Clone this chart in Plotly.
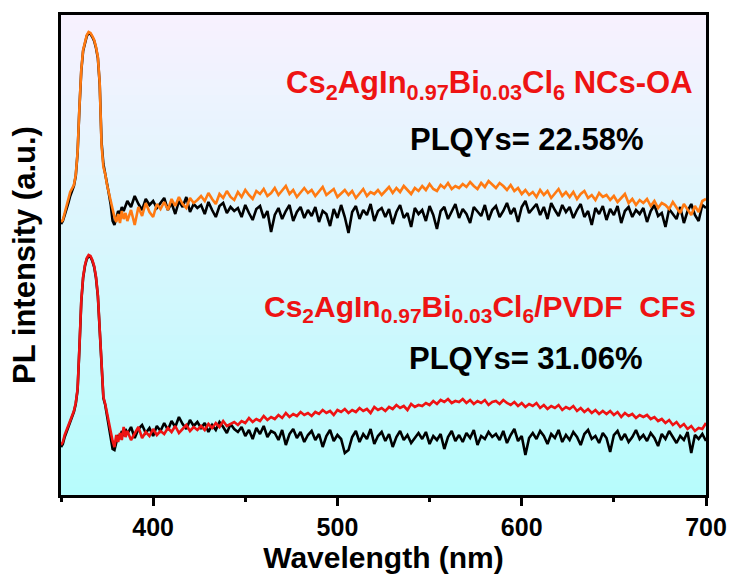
import plotly.graph_objects as go

# ---------------- data (arbitrary intensity units) -------------
wavelength = list(range(350, 386)) + list(range(386, 701, 2))

# upper pair: Cs2AgIn0.97Bi0.03Cl6 NCs-OA (orange) and its reference (black)
oa_orange = [
    275, 277, 284, 290, 298, 305, 308, 312, 322, 345, 390, 427, 447, 456, 462, 465, 464, 461,
    457, 450, 440, 414, 352, 330, 323, 312, 303, 297, 288, 280, 275, 283, 274, 286, 278, 284,
    276, 287, 272, 290, 281, 294, 285, 280, 293, 288,
    295, 287, 298, 291, 300, 293, 289, 299, 294, 297,
    301, 296, 304, 298, 293, 303, 299, 306, 300, 297,
    305, 300, 307, 302, 298, 306, 303, 308, 301, 304,
    309, 302, 306, 311, 303, 307, 300, 305, 309, 304,
    307, 301, 306, 310, 302, 305, 308, 300, 304, 307,
    302, 306, 299, 304, 308, 301, 305, 303, 307, 302,
    306, 310, 304, 309, 305, 311, 307, 303, 309, 306,
    311, 307, 313, 308, 306, 312, 309, 314, 308, 311,
    309, 313, 310, 315, 311, 308, 314, 310, 316, 312,
    309, 314, 311, 307, 312, 306, 309, 303, 307, 302,
    305, 300, 307, 302, 306, 299, 304, 308, 301, 305,
    300, 305, 298, 303, 306, 299, 302, 297, 304, 300,
    302, 297, 301, 295, 299, 303, 294, 298, 292, 297,
    294, 298, 291, 296, 289, 294, 292, 288, 295, 290,
    284, 293, 287, 282, 291, 285, 296, 298,
]
oa_black = [
    273, 276, 282, 287, 294, 301, 306, 311, 321, 344, 389, 426, 446, 455, 461, 464, 463, 460,
    456, 449, 439, 413, 355, 333, 324, 313, 303, 292, 276, 272, 279, 286, 283, 290, 286, 292,
    296, 290, 301, 293, 287, 298, 292, 296, 289, 294,
    299, 287, 294, 283, 296, 290, 300, 285, 293, 289,
    292, 283, 295, 287, 280, 291, 294, 284, 290, 286,
    289, 280, 292, 284, 277, 288, 291, 279, 286, 265,
    282, 289, 278, 286, 292, 276, 285, 290, 279, 287,
    281, 290, 275, 286, 283, 271, 288, 279, 292, 280,
    264, 285, 291, 278, 287, 282, 293, 276, 286, 289,
    280, 288, 273, 285, 292, 279, 284, 270, 289, 283,
    287, 276, 291, 282, 268, 286, 290, 278, 285, 293,
    279, 288, 283, 274, 290, 286, 281, 292, 277, 287,
    291, 280, 286, 294, 283, 289, 275, 290, 296, 284,
    289, 293, 282, 290, 278, 294, 287, 281, 292, 285,
    290, 279, 287, 293, 280, 286, 272, 289, 283, 291,
    277, 288, 282, 291, 274, 286, 290, 280, 287, 283,
    289, 275, 286, 292, 281, 284, 270, 288, 283, 278,
    290, 274, 286, 293, 282, 276, 292, 289,
]

# lower pair: Cs2AgIn0.97Bi0.03Cl6/PVDF CFs (red) and its reference (black)
cf_red = [
    52, 55, 62, 67, 72, 76, 80, 86, 94, 108, 150, 196, 220, 232, 239, 242, 241, 237,
    231, 220, 202, 170, 128, 100, 93, 84, 73, 64, 56, 50, 62, 55, 64, 57, 70, 60,
    66, 57, 63, 70, 59, 65, 61, 68, 62, 66,
    63, 69, 65, 71, 64, 68, 72, 66, 70, 67,
    71, 67, 73, 69, 74, 70, 76, 71, 73, 75,
    72, 76, 74, 79, 75, 78, 76, 81, 77, 80,
    78, 82, 79, 84, 80, 83, 81, 85, 82, 84,
    81, 85, 83, 87, 84, 86, 82, 87, 85, 88,
    84, 87, 85, 89, 86, 88, 84, 90, 87, 89,
    86, 90, 88, 92, 89, 91, 87, 93, 90, 92,
    91, 94, 92, 96, 93, 97, 95, 98, 94, 96,
    95, 98, 94, 97, 93, 96, 94, 97, 92, 95,
    96, 93, 97, 94, 92, 95, 91, 94, 90, 93,
    91, 94, 89, 92, 88, 91, 89, 92, 87, 90,
    88, 91, 86, 89, 85, 88, 84, 87, 83, 86,
    83, 86, 82, 85, 80, 84, 81, 83, 79, 82,
    80, 82, 78, 80, 76, 78, 74, 77, 72, 75,
    70, 73, 68, 71, 66, 69, 68, 74,
]
cf_black = [
    50, 53, 60, 65, 70, 75, 79, 85, 93, 107, 149, 195, 219, 231, 238, 241, 240, 236,
    230, 219, 201, 169, 127, 99, 92, 82, 70, 58, 48, 47, 55, 62, 58, 66, 61, 68,
    63, 70, 59, 68, 72, 64, 69, 61, 71, 66,
    74, 67, 76, 70, 80, 73, 68, 77, 71, 75,
    69, 74, 65, 72, 67, 75, 70, 64, 73, 68,
    65, 70, 61, 67, 58, 69, 63, 71, 60, 66,
    64, 57, 67, 52, 63, 68, 59, 65, 55, 62,
    66, 57, 63, 50, 61, 67, 56, 62, 58, 44,
    47, 60, 66, 55, 63, 58, 68, 53, 61, 65,
    56, 63, 50, 60, 66, 57, 62, 54, 59, 64,
    58, 65, 53, 61, 57, 63, 48, 60, 66, 56,
    62, 55, 64, 59, 67, 52, 61, 58, 65, 60,
    63, 57, 66, 54, 62, 68, 56, 61, 42, 59,
    64, 58, 66, 61, 53, 63, 59, 67, 55, 62,
    57, 65, 60, 52, 63, 67, 58, 61, 54, 64,
    59, 45, 62, 66, 57, 63, 55, 60, 67, 58,
    62, 56, 64, 59, 51, 63, 58, 66, 60, 54,
    61, 57, 65, 44, 62, 58, 63, 56,
]

x_tick_vals = [400, 500, 600, 700]
x_tick_text = ["400", "500", "600", "700"]

label_oa = "Cs<sub>2</sub>AgIn<sub>0.97</sub>Bi<sub>0.03</sub>Cl<sub>6</sub> NCs-OA"
plqy_oa = "PLQYs= 22.58%"
label_cf = "Cs<sub>2</sub>AgIn<sub>0.97</sub>Bi<sub>0.03</sub>Cl<sub>6</sub>/PVDF\u00a0 CFs"
plqy_cf = "PLQYs= 31.06%"

# ---------------- figure ----------------
FONT = "Liberation Sans, Arial, Helvetica, sans-serif"
ORANGE = "#ff7a12"
RED = "#ee1313"
LW = 2.6

fig = go.Figure()
fig.add_trace(go.Scatter(x=wavelength, y=oa_black, mode="lines",
                         line=dict(color="black", width=LW), showlegend=False))
fig.add_trace(go.Scatter(x=wavelength, y=oa_orange, mode="lines",
                         line=dict(color=ORANGE, width=LW), showlegend=False))
fig.add_trace(go.Scatter(x=wavelength, y=cf_black, mode="lines",
                         line=dict(color="black", width=LW), showlegend=False))
fig.add_trace(go.Scatter(x=wavelength, y=cf_red, mode="lines",
                         line=dict(color=RED, width=LW), showlegend=False))

# vertical background gradient (lavender at top -> light cyan at bottom)
top_c = (248, 241, 254)
bot_c = (182, 252, 252)
n_strips = 60
shapes = []
for i in range(n_strips):
    f = (i + 0.5) / n_strips
    c = tuple(round(bot_c[k] + (top_c[k] - bot_c[k]) * f) for k in range(3))
    shapes.append(dict(type="rect", xref="x domain", yref="y domain",
                       x0=0, x1=1, y0=i / n_strips, y1=(i + 1) / n_strips + 0.002,
                       fillcolor="rgb(%d,%d,%d)" % c, line=dict(width=0), layer="below"))

annotations = [
    dict(text=label_oa, x=0.983, y=0.855, xref="paper", yref="paper", xanchor="right",
         yanchor="middle", showarrow=False,
         font=dict(family=FONT, size=31, color=RED, weight="bold")),
    dict(text=plqy_oa, x=0.907, y=0.741, xref="paper", yref="paper", xanchor="right",
         yanchor="middle", showarrow=False,
         font=dict(family=FONT, size=31, color="black", weight="bold")),
    dict(text=label_cf, x=0.988, y=0.388, xref="paper", yref="paper", xanchor="right",
         yanchor="middle", showarrow=False,
         font=dict(family=FONT, size=30, color=RED, weight="bold")),
    dict(text=plqy_cf, x=0.906, y=0.284, xref="paper", yref="paper", xanchor="right",
         yanchor="middle", showarrow=False,
         font=dict(family=FONT, size=31, color="black", weight="bold")),
]

fig.update_layout(
    width=739, height=576,
    margin=dict(l=61, r=28, t=15, b=81),
    paper_bgcolor="white",
    plot_bgcolor="rgba(0,0,0,0)",
    shapes=shapes,
    annotations=annotations,
    font=dict(family=FONT, color="black"),
    xaxis=dict(
        range=[350, 700], tickmode="array", tickvals=x_tick_vals, ticktext=x_tick_text,
        ticks="outside", ticklen=8, tickwidth=3, tickcolor="black",
        showline=True, linewidth=3, linecolor="black", mirror=True,
        showgrid=False, zeroline=False,
        tickfont=dict(family=FONT, size=25, color="black", weight="bold"),
        minor=dict(dtick=50, tick0=350, ticks="outside", ticklen=4, tickwidth=3,
                   tickcolor="black", showgrid=False),
        title=dict(text="Wavelength (nm)", standoff=2,
                   font=dict(family=FONT, size=30, color="black", weight="bold")),
    ),
    yaxis=dict(
        range=[2, 482], showticklabels=False, ticks="",
        showline=True, linewidth=3, linecolor="black", mirror=True,
        showgrid=False, zeroline=False,
        title=dict(text="PL intensity (a.u.)", standoff=14,
                   font=dict(family=FONT, size=31, color="black", weight="bold")),
    ),
)

fig.write_html("out.html")
